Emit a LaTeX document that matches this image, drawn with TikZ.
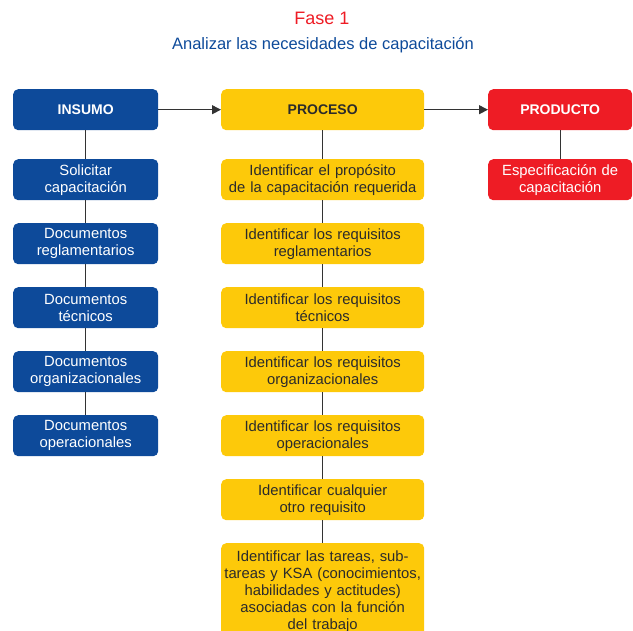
\documentclass[tikz,border=0pt]{standalone}
\usepackage{fontspec}
\setmainfont{Liberation Sans}
\usetikzlibrary{arrows.meta}
\definecolor{cblue}{HTML}{0D4A9A}
\definecolor{cyellow}{HTML}{FDC90A}
\definecolor{cred}{HTML}{EE1C25}
\definecolor{ctext}{HTML}{2B2B2B}
\definecolor{cline}{HTML}{333333}
\tikzset{
  box/.style={rounded corners=5pt, inner sep=0pt, align=center, font=\fontsize{14.8}{17}\selectfont, anchor=north west},
  bluebox/.style={box, fill=cblue, text=white, minimum width=145pt, minimum height=41pt, text width=145pt},
  yelbox/.style={box, fill=cyellow, text=ctext, minimum width=203pt, minimum height=41pt, text width=203pt},
  redbox/.style={box, fill=cred, text=white, minimum width=144pt, minimum height=41pt, text width=144pt},
  head/.style={font=\bfseries\fontsize{14}{16}\selectfont},
  link/.style={draw=cline, line width=0.9pt},
  arr/.style={link, -{Triangle[length=9pt,width=9pt]}}
}
\begin{document}
\begin{tikzpicture}[x=1pt,y=-1pt]
\useasboundingbox (0,0) rectangle (633,631);
\node[text=cred, font=\fontsize{18}{20}\selectfont] (t1) at (322,18) {Fase 1};
\node[text=cblue, font=\fontsize{16.5}{19}\selectfont] (t2) at (323,45) {Analizar las necesidades de capacitación};
% headers
\node[bluebox, head] (ins) at (13,89) {INSUMO};
\node[yelbox, head] (pro) at (221,89) {PROCESO};
\node[redbox, head] (prd) at (488,89) {PRODUCTO};
% left column
\node[bluebox] (l1) at (13,159) {Solicitar\\capacitación};
\node[bluebox] (l2) at (13,223) {Documentos\\reglamentarios};
\node[bluebox] (l3) at (13,287) {Documentos\\técnicos};
\node[bluebox] (l4) at (13,351) {Documentos\\organizacionales};
\node[bluebox] (l5) at (13,415) {Documentos\\operacionales};
% middle column
\node[yelbox] (m1) at (221,159) {Identificar el propósito\\de la capacitación requerida};
\node[yelbox] (m2) at (221,223) {Identificar los requisitos\\reglamentarios};
\node[yelbox] (m3) at (221,287) {Identificar los requisitos\\técnicos};
\node[yelbox] (m4) at (221,351) {Identificar los requisitos\\organizacionales};
\node[yelbox] (m5) at (221,415) {Identificar los requisitos\\operacionales};
\node[yelbox] (m6) at (221,479) {Identificar cualquier\\otro requisito};
\node[yelbox, minimum height=96pt] (m7) at (221,543) {Identificar las tareas, sub-\\tareas y KSA (conocimientos,\\habilidades y actitudes)\\asociadas con la función\\del trabajo};
% right column
\node[redbox] (r1) at (488,159) {Especificación de\\capacitación};
% connectors
\draw[arr] (ins) -- (pro);
\draw[arr] (pro) -- (prd);
\draw[link] (ins) -- (l1);
\draw[link] (l1) -- (l2);
\draw[link] (l2) -- (l3);
\draw[link] (l3) -- (l4);
\draw[link] (l4) -- (l5);
\draw[link] (pro) -- (m1);
\draw[link] (m1) -- (m2);
\draw[link] (m2) -- (m3);
\draw[link] (m3) -- (m4);
\draw[link] (m4) -- (m5);
\draw[link] (m5) -- (m6);
\draw[link] (m6) -- (m7);
\draw[link] (prd) -- (r1);
\end{tikzpicture}
\end{document}
